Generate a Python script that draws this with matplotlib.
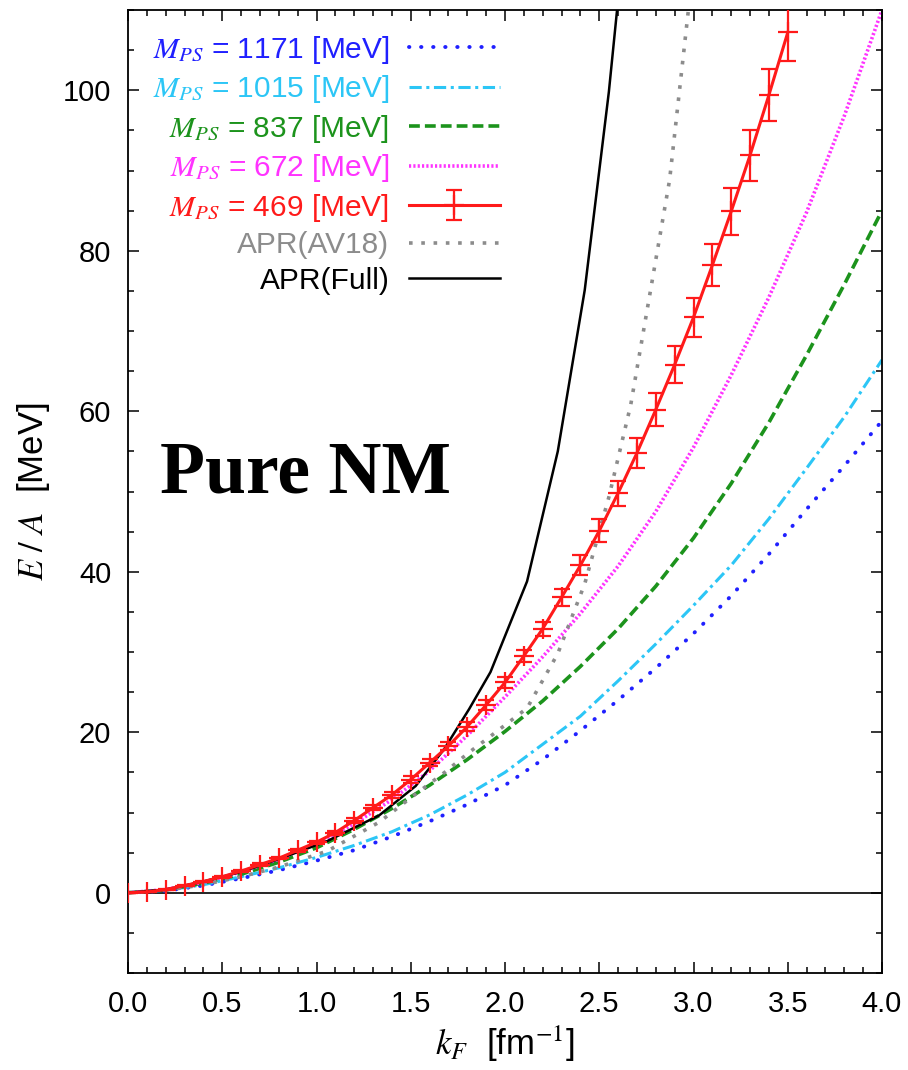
import matplotlib
matplotlib.use("Agg")
import matplotlib.pyplot as plt
from matplotlib.ticker import MultipleLocator

plt.rcParams['font.family'] = ['Liberation Sans', 'DejaVu Sans']
plt.rcParams['mathtext.fontset'] = 'stix'

# smooth curves read at kF = 0.0, 0.2, ..., 4.0
kf_grid = [0.0, 0.2, 0.4, 0.6, 0.8, 1.0, 1.2, 1.4, 1.6, 1.8, 2.0,
           2.2, 2.4, 2.6, 2.8, 3.0, 3.2, 3.4, 3.6, 3.8, 4.0]
e_1171 = [0, 0.25, 0.9, 1.8, 2.8, 4.0, 5.3, 7.0, 8.9, 11.0, 13.4,
          16.6, 20.2, 24.0, 28.0, 32.3, 37.0, 42.2, 47.8, 53.2, 58.8]
e_1015 = [0, 0.3, 1.0, 2.0, 3.1, 4.4, 5.9, 7.6, 9.7, 12.2, 15.0,
          18.5, 22.0, 26.4, 31.0, 35.8, 40.8, 46.6, 52.9, 59.3, 66.4]
e_837 = [0, 0.35, 1.2, 2.3, 3.8, 5.6, 7.9, 10.5, 13.4, 16.6, 20.1,
         23.9, 28.2, 32.9, 38.2, 44.2, 51.0, 58.6, 67.0, 75.8, 85.0]
e_672 = [0, 0.4, 1.3, 2.6, 4.2, 6.1, 8.6, 11.6, 15.2, 19.6, 24.4,
         29.4, 34.8, 40.7, 47.5, 55.5, 64.5, 74.2, 84.8, 96.8, 110.0]

# lattice points with error bars (M_PS = 469 MeV)
kf_469 = [0.0, 0.1, 0.2, 0.3, 0.4, 0.5, 0.6, 0.7, 0.8, 0.9, 1.0, 1.1,
          1.2, 1.3, 1.4, 1.5, 1.6, 1.7, 1.8, 1.9, 2.0, 2.1, 2.2, 2.3,
          2.4, 2.5, 2.6, 2.7, 2.8, 2.9, 3.0, 3.1, 3.2, 3.3, 3.4, 3.5]
e_469 = [0, 0.1, 0.4, 0.9, 1.4, 2.0, 2.7, 3.5, 4.3, 5.3, 6.3, 7.5,
         9.0, 10.6, 12.2, 14.1, 16.2, 18.3, 20.7, 23.4, 26.2, 29.5, 32.9, 36.8,
         40.8, 45.1, 49.8, 54.8, 60.2, 65.8, 71.7, 78.2, 84.9, 91.9, 99.4, 107.2]
err_469 = [0, 0.05, 0.05, 0.05, 0.1, 0.1, 0.1, 0.15, 0.15, 0.2, 0.2, 0.25,
           0.3, 0.3, 0.35, 0.4, 0.45, 0.5, 0.55, 0.6, 0.7, 0.8, 0.9, 1.05,
           1.25, 1.45, 1.55, 1.85, 2.05, 2.3, 2.4, 2.6, 2.9, 3.15, 3.25, 3.5]

# APR tables
kf_av18 = [0.0, 0.2, 0.4, 0.6, 0.8, 1.058, 1.333, 1.526, 1.680, 1.810, 1.923,
           2.117, 2.280, 2.423, 2.551, 2.667, 2.873, 3.053]
e_av18 = [0, 0.3, 1.0, 2.0, 3.2, 5.2, 8.8, 12.3, 15.0, 17.5, 19.5,
          23.0, 29.8, 38.5, 49.3, 60.8, 88.8, 127.0]
kf_full = [0.0, 0.2, 0.4, 0.6, 0.8, 1.058, 1.333, 1.526, 1.680, 1.810, 1.923,
           2.117, 2.280, 2.423, 2.551, 2.667]
e_full = [0, 0.4, 1.4, 2.6, 4.2, 6.45, 9.65, 13.3, 18.0, 22.9, 27.5,
          38.8, 55.0, 75.1, 99.8, 127.0]

c_blue = '#2020ff'
c_cyan = '#2cc6f6'
c_green = '#1c931c'
c_mag = '#ff33ff'
c_red = '#ff1a1a'
c_gray = '#8c8c8c'

fig = plt.figure(figsize=(9.08, 10.70), dpi=100)
ax = fig.add_axes([128/908, 97/1070, 754/908, 963/1070])

ax.axhline(0, color='black', lw=1.2, zorder=1)

l1, = ax.plot(kf_grid, e_1171, color=c_blue, lw=2.8, linestyle=(0, (0.1, 3.0)),
              dash_capstyle='round', label=r'$M_{PS}$ = 1171 [MeV]')
l2, = ax.plot(kf_grid, e_1015, color=c_cyan, lw=2.2, linestyle=(0, (4, 1.5, 1, 1.5)),
              label=r'$M_{PS}$ = 1015 [MeV]')
l3, = ax.plot(kf_grid, e_837, color=c_green, lw=2.6, linestyle=(0, (3, 1.4)),
              label=r'$M_{PS}$ = 837 [MeV]')
l4, = ax.plot(kf_grid, e_672, color=c_mag, lw=2.6, linestyle=(0, (0.6, 0.6)),
              label=r'$M_{PS}$ = 672 [MeV]')
eb = ax.errorbar(kf_469, e_469, yerr=err_469, color=c_red, lw=2.2, marker='+',
                 ms=14, mew=1.6, capsize=6, capthick=1.6, elinewidth=1.6,
                 label=r'$M_{PS}$ = 469 [MeV]', zorder=6)
l6, = ax.plot(kf_av18, e_av18, color=c_gray, lw=2.6, linestyle=(0, (1, 2.4)),
              label='APR(AV18)')
l7, = ax.plot(kf_full, e_full, color='black', lw=1.8, label='APR(Full)', zorder=5)

ax.set_xlim(0, 4)
ax.set_ylim(-10, 110)
ax.xaxis.set_major_locator(MultipleLocator(0.5))
ax.xaxis.set_minor_locator(MultipleLocator(0.1))
ax.yaxis.set_major_locator(MultipleLocator(20))
ax.yaxis.set_minor_locator(MultipleLocator(5))
ax.xaxis.set_major_formatter(matplotlib.ticker.FormatStrFormatter('%.1f'))
ax.tick_params(which='both', direction='in', top=True, right=True, width=1.1)
ax.tick_params(which='major', length=8, labelsize=21, pad=12)
ax.tick_params(which='minor', length=4.5)
for sp in ax.spines.values():
    sp.set_linewidth(1.3)

ax.set_xlabel(r'$k_F$  [fm$^{-1}$]', fontsize=25, labelpad=4)
ax.set_ylabel(r'$E\ /\ A$  [MeV]', fontsize=25, labelpad=8)

ax.text(0.042, 0.4985, 'Pure NM', transform=ax.transAxes, fontsize=53,
        fontweight='bold', family='Liberation Serif', va='baseline', ha='left')

leg = ax.legend(handles=[l1, l2, l3, l4, eb, l6, l7], markerfirst=False,
                frameon=False, fontsize=21.5, loc='upper right',
                bbox_to_anchor=(0.525, 1.0), borderaxespad=0.4,
                handlelength=3.05, handletextpad=0.65, labelspacing=0.25)
for t, c in zip(leg.get_texts(), [c_blue, c_cyan, c_green, c_mag, c_red, c_gray, 'black']):
    t.set_color(c)

fig.savefig('out.png', dpi=100)
